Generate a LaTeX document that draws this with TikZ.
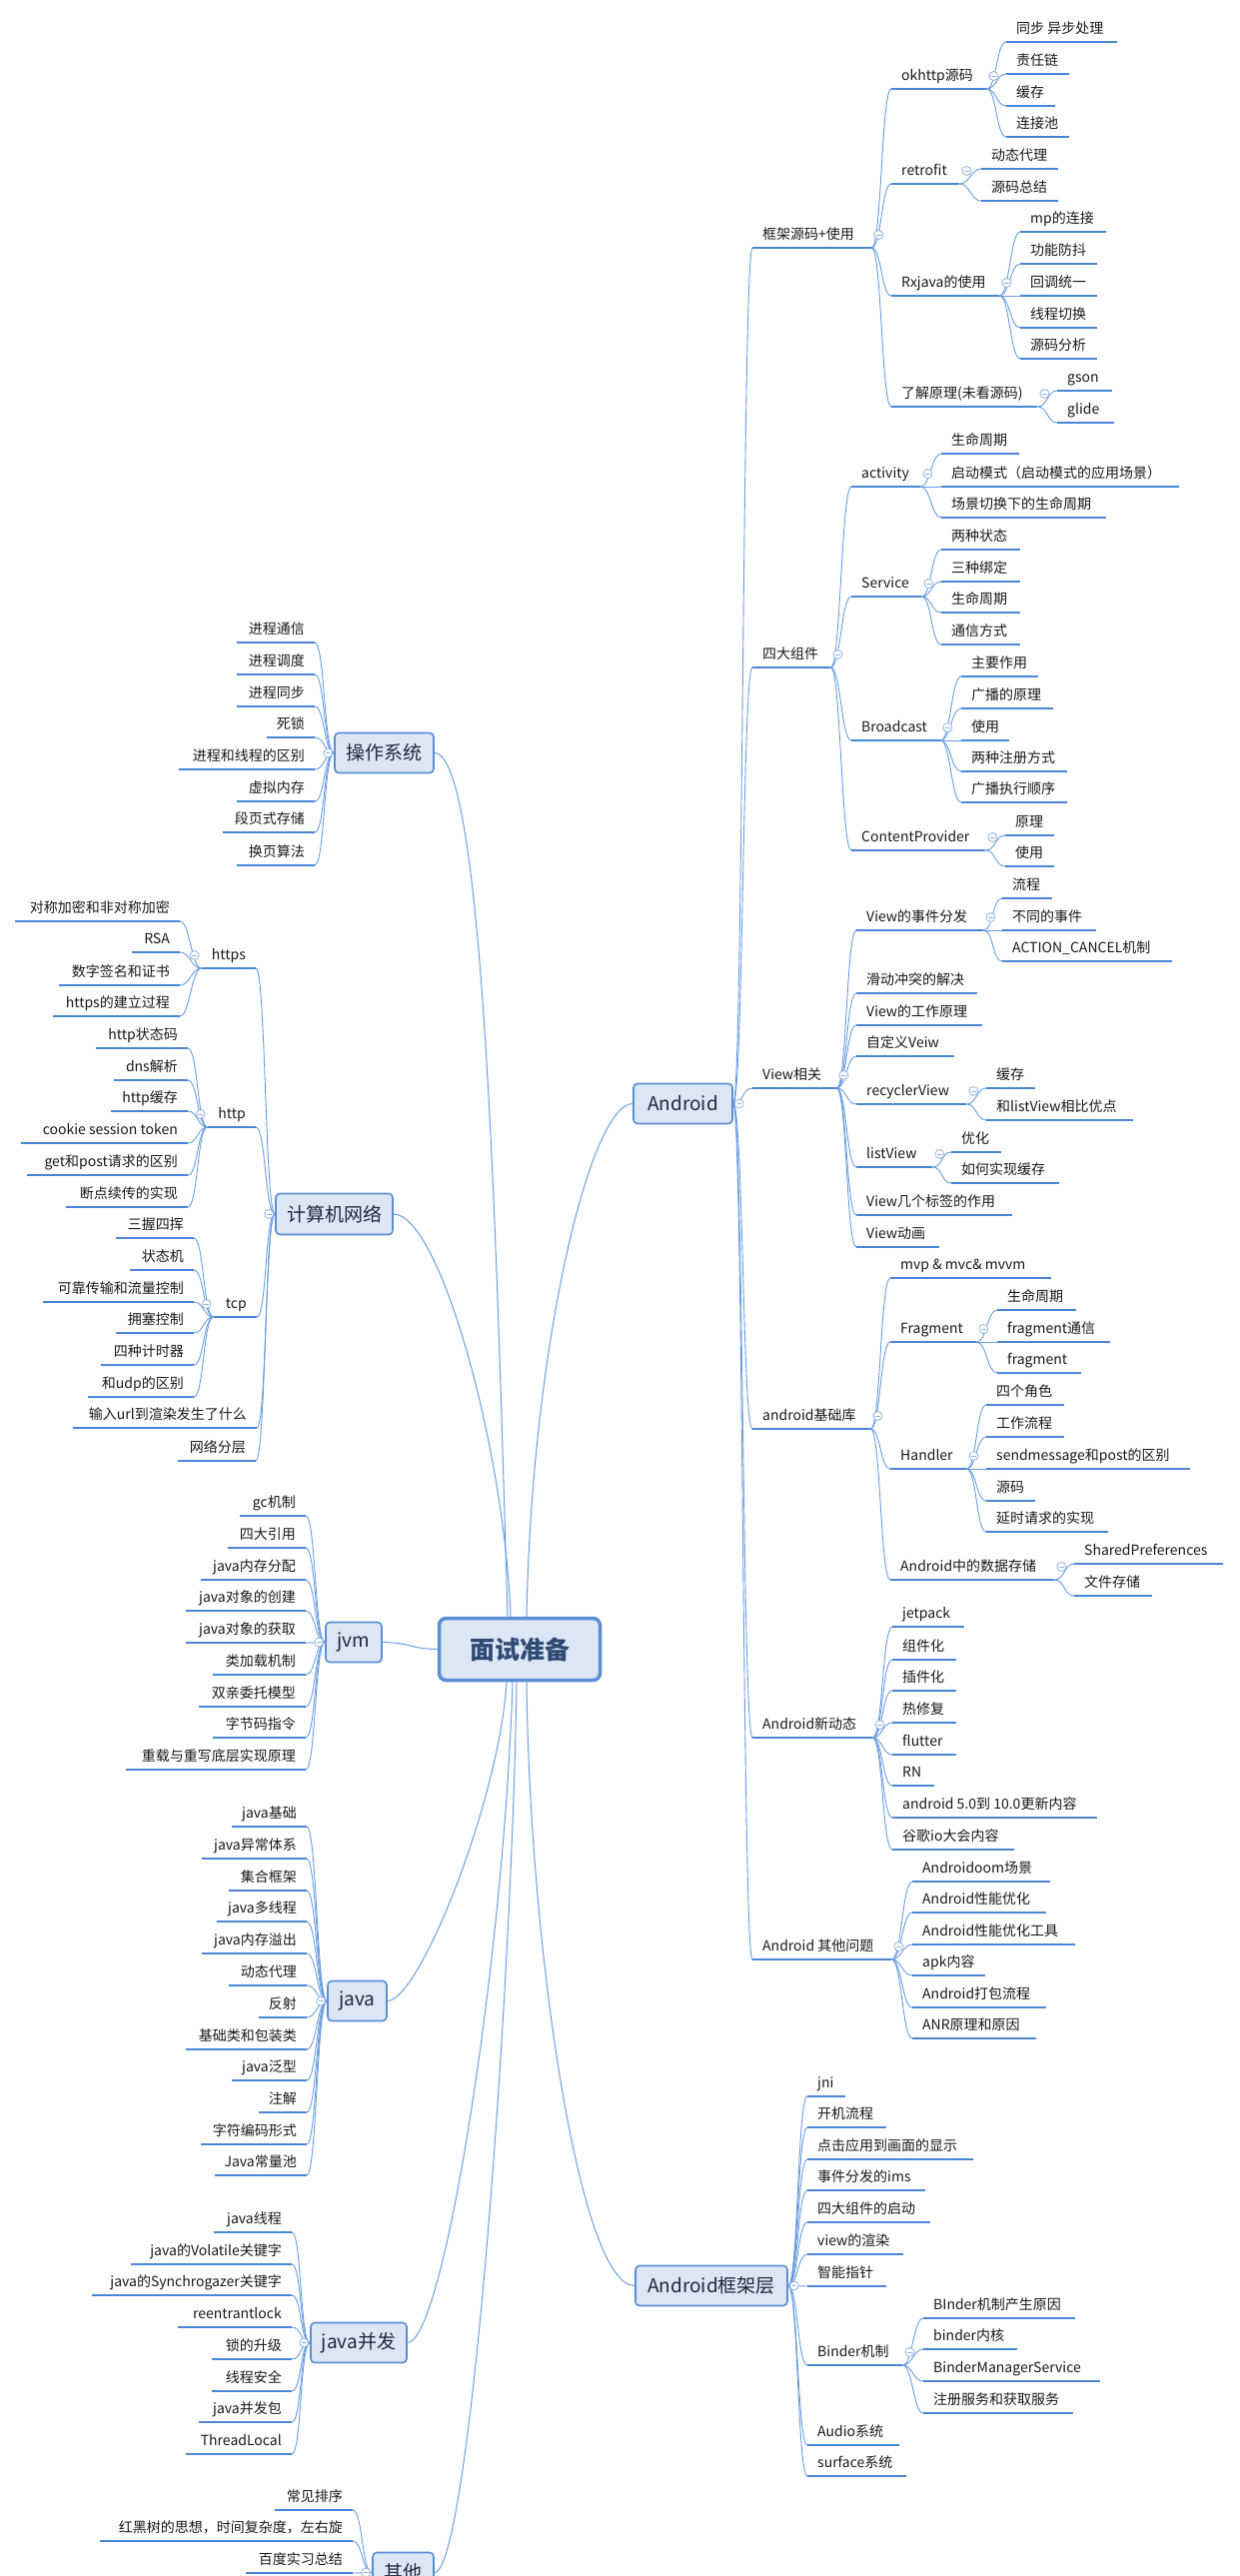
\documentclass[tikz,border=0pt]{standalone}
\usepackage{fontspec}
\setmainfont{Noto Sans CJK SC}
\usetikzlibrary{calc}
\definecolor{ulc}{HTML}{4A86D8}
\definecolor{connc}{HTML}{6A9EE0}
\definecolor{boxfill}{HTML}{DCE6F4}
\definecolor{boxdraw}{HTML}{5A8ED6}
\definecolor{boxtext}{HTML}{1E2A3A}
\definecolor{ctrtext}{HTML}{2F4A75}
\definecolor{togc}{HTML}{8FB2E3}
\definecolor{leaftext}{HTML}{1A1A1A}
\tikzset{
  leaf/.style={inner xsep=10pt, inner ysep=5.5pt, text height=11pt, text depth=3pt,
    font=\fontsize{14}{16}\selectfont, text=leaftext},
  uline/.style={draw=ulc, line width=2pt},
  conn/.style={draw=connc, line width=0.9pt},
  mainconn/.style={draw=connc, line width=1pt},
  mmbox/.style={draw=boxdraw, line width=1.6pt, fill=boxfill, rounded corners=4pt,
    font=\fontsize{19}{22}\selectfont, text=boxtext, inner sep=0pt},
  ctrbox/.style={draw=boxdraw, line width=3.5pt, fill=boxfill, rounded corners=7pt,
    font=\fontsize{25}{30}\selectfont\bfseries, text=ctrtext, inner sep=0pt,
    minimum width=161pt, minimum height=62pt},
  tog/.style={circle, draw=togc, line width=0.8pt, fill=white, minimum size=9pt, inner sep=0pt,
    path picture={\draw[togc, line width=0.7pt] ([xshift=-2.3pt]path picture bounding box.center) -- ([xshift=2.3pt]path picture bounding box.center);}}
}
% right-side topic: name, left, right, underline y, text
\newcommand\mmR[5]{%
  \pgfmathsetmacro\mmw{#3-#2-20}%
  \node[leaf,anchor=south west] (#1) at (#2,#4) {\makebox[\mmw pt][l]{#5}};
  \draw[uline] (#1.south west) -- (#1.south east);}
% left-side topic
\newcommand\mmL[5]{%
  \pgfmathsetmacro\mmw{#3-#2-20}%
  \node[leaf,anchor=south east] (#1) at (#3,#4) {\makebox[\mmw pt][r]{#5}};
  \draw[uline] (#1.south west) -- (#1.south east);}
\newcommand\cR[2]{\foreach \mmc in {#2}{\draw[conn] (#1.south east) .. controls +(10,0) and +(-10,0) .. (\mmc.south west);}}
\newcommand\cRb[2]{\foreach \mmc in {#2}{\draw[conn] (#1.east) .. controls +(10,0) and +(-10,0) .. (\mmc.south west);}}
\newcommand\cL[2]{\foreach \mmc in {#2}{\draw[conn] (#1.south west) .. controls +(-10,0) and +(10,0) .. (\mmc.south east);}}
\newcommand\cLb[2]{\foreach \mmc in {#2}{\draw[conn] (#1.west) .. controls +(-10,0) and +(10,0) .. (\mmc.south east);}}
\newcommand\tR[1]{\node[tog] (#1-t) at ([xshift=7pt,yshift=13pt]#1.south east) {};}
\newcommand\tL[1]{\node[tog] (#1-t) at ([xshift=-7pt,yshift=13pt]#1.south west) {};}
\newcommand\tRb[1]{\node[tog] (#1-t) at ([xshift=6pt]#1.east) {};}
\newcommand\tLb[1]{\node[tog] (#1-t) at ([xshift=-6pt]#1.west) {};}
\begin{document}
\begin{tikzpicture}[x=1pt,y=-1pt]
\useasboundingbox (0,0) rectangle (1240,2578);
\fill[white] (0,0) rectangle (1240,2578);

% ---------------- central and main boxes
\node[ctrbox] (ctr) at (520,1650.5) {面试准备};
\node[mmbox, minimum width=99pt, minimum height=40pt] (and) at (683.5,1104.5) {Android};
\node[mmbox, minimum width=152pt, minimum height=40pt] (fw) at (712,2287.5) {Android框架层};
\node[mmbox, minimum width=99pt, minimum height=40pt] (os) at (384.5,753.5) {操作系统};
\node[mmbox, minimum width=117pt, minimum height=41pt] (net) at (334.5,1215) {计算机网络};
\node[mmbox, minimum width=56pt, minimum height=40pt] (jvm) at (354,1643.5) {jvm};
\node[mmbox, minimum width=59pt, minimum height=40pt] (java) at (357.5,2002.5) {java};
\node[mmbox, minimum width=96pt, minimum height=40pt] (jb) at (359,2344.5) {java并发};
\node[mmbox, minimum width=61pt, minimum height=40pt] (oth) at (403.5,2574.5) {其他};

% main connectors
\draw[mainconn] (os.east) .. controls (485,754) and (497,1250) .. ([xshift=-12pt]ctr.north);
\draw[mainconn] (net.east) .. controls (440,1215) and (505,1450) .. ([xshift=-9pt]ctr.north);
\draw[mainconn] (and.west) .. controls (590,1105) and (532,1350) .. ([xshift=7pt]ctr.north);
\draw[mainconn] (jvm.east) .. controls (412,1644) and (410,1650) .. (ctr.west);
\draw[mainconn] (java.east) .. controls (420,2002) and (500,1800) .. ([xshift=-13pt]ctr.south);
\draw[mainconn] (jb.east) .. controls (445,2344) and (505,1950) .. ([xshift=-7pt]ctr.south);
\draw[mainconn] (oth.east) .. controls (470,2574) and (512,2000) .. ([xshift=-3pt]ctr.south);
\draw[mainconn] (fw.west) .. controls (580,2288) and (530,1950) .. ([xshift=7pt]ctr.south);

% ---------------- Android
\mmR{kj}{753}{872}{248}{框架源码+使用}
\mmR{sd}{753}{831}{668}{四大组件}
\mmR{vw}{753}{837}{1089}{View相关}
\mmR{jc}{753}{871}{1430}{android基础库}
\mmR{xd}{753}{873}{1739}{Android新动态}
\mmR{qt}{753}{892}{1961}{Android 其他问题}

\mmR{ok}{892}{987}{89}{okhttp源码}
\mmR{rf}{892}{960}{184}{retrofit}
\mmR{rx}{892}{1000}{296}{Rxjava的使用}
\mmR{lj}{892}{1038}{407}{了解原理(未看源码)}
\mmR{ok1}{1007}{1118}{42}{同步 异步处理}
\mmR{ok2}{1007}{1070}{74}{责任链}
\mmR{ok3}{1007}{1056}{106}{缓存}
\mmR{ok4}{1007}{1070}{137}{连接池}
\mmR{rf1}{982}{1059}{169}{动态代理}
\mmR{rf2}{982}{1059}{201}{源码总结}
\mmR{rx1}{1021}{1107}{232}{mp的连接}
\mmR{rx2}{1021}{1098}{264}{功能防抖}
\mmR{rx3}{1021}{1098}{296}{回调统一}
\mmR{rx4}{1021}{1098}{328}{线程切换}
\mmR{rx5}{1021}{1098}{359}{源码分析}
\mmR{lj1}{1058}{1113}{391}{gson}
\mmR{lj2}{1058}{1115}{423}{glide}

\mmR{ac}{852}{921}{487}{activity}
\mmR{sv}{852}{922}{597}{Service}
\mmR{bc}{852}{941}{741}{Broadcast}
\mmR{cp}{852}{986}{851}{ContentProvider}
\mmR{ac1}{942}{1020}{454}{生命周期}
\mmR{ac2}{942}{1180}{487}{启动模式（启动模式的应用场景）}
\mmR{ac3}{942}{1107}{518}{场景切换下的生命周期}
\mmR{sv1}{942}{1021}{550}{两种状态}
\mmR{sv2}{942}{1021}{582}{三种绑定}
\mmR{sv3}{942}{1021}{613}{生命周期}
\mmR{sv4}{942}{1021}{645}{通信方式}
\mmR{bc1}{962}{1039}{677}{主要作用}
\mmR{bc2}{962}{1054}{709}{广播的原理}
\mmR{bc3}{962}{1010}{741}{使用}
\mmR{bc4}{962}{1068}{772}{两种注册方式}
\mmR{bc5}{962}{1068}{803}{广播执行顺序}
\mmR{cp1}{1006}{1055}{836}{原理}
\mmR{cp2}{1006}{1055}{867}{使用}

\mmR{ve}{857}{984}{931}{View的事件分发}
\mmR{vs}{857}{978}{994}{滑动冲突的解决}
\mmR{vg}{857}{983}{1026}{View的工作原理}
\mmR{vc}{857}{955}{1057}{自定义Veiw}
\mmR{rv}{857}{967}{1105}{recyclerView}
\mmR{lv}{857}{933}{1168}{listView}
\mmR{vt}{857}{1013}{1216}{View几个标签的作用}
\mmR{va}{857}{940}{1248}{View动画}
\mmR{ve1}{1003}{1053}{899}{流程}
\mmR{ve2}{1003}{1097}{931}{不同的事件}
\mmR{ve3}{1003}{1173}{962}{ACTION\_CANCEL机制}
\mmR{rv1}{987}{1036}{1089}{缓存}
\mmR{rv2}{987}{1134}{1121}{和listView相比优点}
\mmR{lv1}{952}{1002}{1153}{优化}
\mmR{lv2}{952}{1060}{1184}{如何实现缓存}

\mmR{mv}{891}{1052}{1279}{mvp \& mvc\& mvvm}
\mmR{fr}{891}{977}{1343}{Fragment}
\mmR{hd}{891}{967}{1470}{Handler}
\mmR{ds}{891}{1055}{1581}{Android中的数据存储}
\mmR{fr1}{998}{1077}{1311}{生命周期}
\mmR{fr2}{998}{1111}{1343}{fragment通信}
\mmR{fr3}{998}{1082}{1374}{fragment}
\mmR{hd1}{987}{1065}{1406}{四个角色}
\mmR{hd2}{987}{1065}{1438}{工作流程}
\mmR{hd3}{987}{1191}{1470}{sendmessage和post的区别}
\mmR{hd4}{987}{1036}{1502}{源码}
\mmR{hd5}{987}{1109}{1533}{延时请求的实现}
\mmR{ds1}{1075}{1224}{1565}{SharedPreferences}
\mmR{ds2}{1075}{1153}{1597}{文件存储}

\mmR{xd1}{893}{965}{1628}{jetpack}
\mmR{xd2}{893}{957}{1661}{组件化}
\mmR{xd3}{893}{957}{1692}{插件化}
\mmR{xd4}{893}{957}{1724}{热修复}
\mmR{xd5}{893}{957}{1756}{flutter}
\mmR{xd6}{893}{935}{1787}{RN}
\mmR{xd7}{893}{1098}{1819}{android 5.0到 10.0更新内容}
\mmR{xd8}{893}{1015}{1851}{谷歌io大会内容}

\mmR{qt1}{913}{1051}{1883}{Androidoom场景}
\mmR{qt2}{913}{1047}{1914}{Android性能优化}
\mmR{qt3}{913}{1076}{1946}{Android性能优化工具}
\mmR{qt4}{913}{986}{1977}{apk内容}
\mmR{qt5}{913}{1047}{2009}{Android打包流程}
\mmR{qt6}{913}{1037}{2040}{ANR原理和原因}

% ---------------- Android框架层
\mmR{fw1}{808}{846}{2098}{jni}
\mmR{fw2}{808}{887}{2129}{开机流程}
\mmR{fw3}{808}{974}{2161}{点击应用到画面的显示}
\mmR{fw4}{808}{926}{2192}{事件分发的ims}
\mmR{fw5}{808}{931}{2224}{四大组件的启动}
\mmR{fw6}{808}{904}{2256}{view的渲染}
\mmR{fw7}{808}{887}{2288}{智能指针}
\mmR{bd}{808}{903}{2367}{Binder机制}
\mmR{fw9}{808}{900}{2447}{Audio系统}
\mmR{fw10}{808}{907}{2478}{surface系统}
\mmR{bd1}{924}{1076}{2320}{BInder机制产生原因}
\mmR{bd2}{924}{1018}{2351}{binder内核}
\mmR{bd3}{924}{1101}{2383}{BinderManagerService}
\mmR{bd4}{924}{1074}{2415}{注册服务和获取服务}

% ---------------- 操作系统
\mmL{os1}{237}{315}{643}{进程通信}
\mmL{os2}{237}{315}{675}{进程调度}
\mmL{os3}{237}{315}{707}{进程同步}
\mmL{os4}{267}{315}{738}{死锁}
\mmL{os5}{179}{315}{770}{进程和线程的区别}
\mmL{os6}{237}{315}{802}{虚拟内存}
\mmL{os7}{223}{315}{833}{段页式存储}
\mmL{os8}{237}{315}{866}{换页算法}

% ---------------- 计算机网络
\mmL{hs}{202}{256}{969}{https}
\mmL{hp}{208}{256}{1128}{http}
\mmL{tc}{214}{257}{1318}{tcp}
\mmL{url}{73}{257}{1429}{输入url到渲染发生了什么}
\mmL{layer}{178}{256}{1462}{网络分层}
\mmL{hs1}{15}{180}{922}{对称加密和非对称加密}
\mmL{hs2}{132}{180}{953}{RSA}
\mmL{hs3}{59}{180}{986}{数字签名和证书}
\mmL{hs4}{53}{180}{1017}{https的建立过程}
\mmL{hp1}{96}{188}{1049}{http状态码}
\mmL{hp2}{114}{188}{1081}{dns解析}
\mmL{hp3}{111}{188}{1112}{http缓存}
\mmL{hp4}{21}{188}{1144}{cookie session token}
\mmL{hp5}{27}{188}{1176}{get和post请求的区别}
\mmL{hp6}{66}{188}{1208}{断点续传的实现}
\mmL{tc1}{116}{194}{1239}{三握四挥}
\mmL{tc2}{130}{194}{1271}{状态机}
\mmL{tc3}{43}{194}{1303}{可靠传输和流量控制}
\mmL{tc4}{116}{194}{1334}{拥塞控制}
\mmL{tc5}{101}{194}{1366}{四种计时器}
\mmL{tc6}{88}{194}{1398}{和udp的区别}

% ---------------- jvm
\mmL{jv1}{240}{306}{1517}{gc机制}
\mmL{jv2}{228}{306}{1549}{四大引用}
\mmL{jv3}{201}{306}{1581}{java内存分配}
\mmL{jv4}{186}{306}{1612}{java对象的创建}
\mmL{jv5}{186}{306}{1644}{java对象的获取}
\mmL{jv6}{213}{306}{1676}{类加载机制}
\mmL{jv7}{199}{306}{1708}{双亲委托模型}
\mmL{jv8}{213}{306}{1739}{字节码指令}
\mmL{jv9}{126}{306}{1771}{重载与重写底层实现原理}

% ---------------- java
\mmL{ja1}{232}{307}{1828}{java基础}
\mmL{ja2}{202}{307}{1860}{java异常体系}
\mmL{ja3}{229}{307}{1892}{集合框架}
\mmL{ja4}{217}{307}{1923}{java多线程}
\mmL{ja5}{202}{307}{1955}{java内存溢出}
\mmL{ja6}{229}{307}{1987}{动态代理}
\mmL{ja7}{259}{307}{2019}{反射}
\mmL{ja8}{186}{307}{2051}{基础类和包装类}
\mmL{ja9}{232}{307}{2082}{java泛型}
\mmL{ja10}{259}{307}{2114}{注解}
\mmL{ja11}{201}{307}{2146}{字符编码形式}
\mmL{ja12}{215}{307}{2177}{Java常量池}

% ---------------- java并发
\mmL{jb1}{214}{292}{2234}{java线程}
\mmL{jb2}{131}{292}{2266}{java的Volatile关键字}
\mmL{jb3}{92}{292}{2297}{java的Synchrogazer关键字}
\mmL{jb4}{178}{292}{2329}{reentrantlock}
\mmL{jb5}{212}{292}{2361}{锁的升级}
\mmL{jb6}{212}{292}{2393}{线程安全}
\mmL{jb7}{199}{292}{2424}{java并发包}
\mmL{jb8}{186}{292}{2456}{ThreadLocal}

% ---------------- 其他
\mmL{ot1}{275}{353}{2512}{常见排序}
\mmL{ot2}{100}{353}{2543}{红黑树的思想，时间复杂度，左右旋}
\mmL{ot3}{246}{353}{2575}{百度实习总结}

% ---------------- connectors
\cRb{and}{kj,sd,vw,jc,xd,qt}
\cR{kj}{ok,rf,rx,lj}
\cR{ok}{ok1,ok2,ok3,ok4}
\cR{rf}{rf1,rf2}
\cR{rx}{rx1,rx2,rx3,rx4,rx5}
\cR{lj}{lj1,lj2}
\cR{sd}{ac,sv,bc,cp}
\cR{ac}{ac1,ac2,ac3}
\cR{sv}{sv1,sv2,sv3,sv4}
\cR{bc}{bc1,bc2,bc3,bc4,bc5}
\cR{cp}{cp1,cp2}
\cR{vw}{ve,vs,vg,vc,rv,lv,vt,va}
\cR{ve}{ve1,ve2,ve3}
\cR{rv}{rv1,rv2}
\cR{lv}{lv1,lv2}
\cR{jc}{mv,fr,hd,ds}
\cR{fr}{fr1,fr2,fr3}
\cR{hd}{hd1,hd2,hd3,hd4,hd5}
\cR{ds}{ds1,ds2}
\cR{xd}{xd1,xd2,xd3,xd4,xd5,xd6,xd7,xd8}
\cR{qt}{qt1,qt2,qt3,qt4,qt5,qt6}
\cRb{fw}{fw1,fw2,fw3,fw4,fw5,fw6,fw7,bd,fw9,fw10}
\cR{bd}{bd1,bd2,bd3,bd4}
\cLb{os}{os1,os2,os3,os4,os5,os6,os7,os8}
\cLb{net}{hs,hp,tc,url,layer}
\cL{hs}{hs1,hs2,hs3,hs4}
\cL{hp}{hp1,hp2,hp3,hp4,hp5,hp6}
\cL{tc}{tc1,tc2,tc3,tc4,tc5,tc6}
\cLb{jvm}{jv1,jv2,jv3,jv4,jv5,jv6,jv7,jv8,jv9}
\cLb{java}{ja1,ja2,ja3,ja4,ja5,ja6,ja7,ja8,ja9,ja10,ja11,ja12}
\cLb{jb}{jb1,jb2,jb3,jb4,jb5,jb6,jb7,jb8}
\cLb{oth}{ot1,ot2,ot3}

% ---------------- collapse toggles
\tRb{and} \tRb{fw}
\tR{kj} \tR{ok} \tR{rf} \tR{rx} \tR{lj}
\tR{sd} \tR{ac} \tR{sv} \tR{bc} \tR{cp}
\tR{vw} \tR{ve} \tR{rv} \tR{lv}
\tR{jc} \tR{fr} \tR{hd} \tR{ds}
\tR{xd} \tR{qt} \tR{bd}
\tLb{os} \tLb{net} \tLb{jvm} \tLb{java} \tLb{jb} \tLb{oth}
\tL{hs} \tL{hp} \tL{tc}
\end{tikzpicture}
\end{document}
